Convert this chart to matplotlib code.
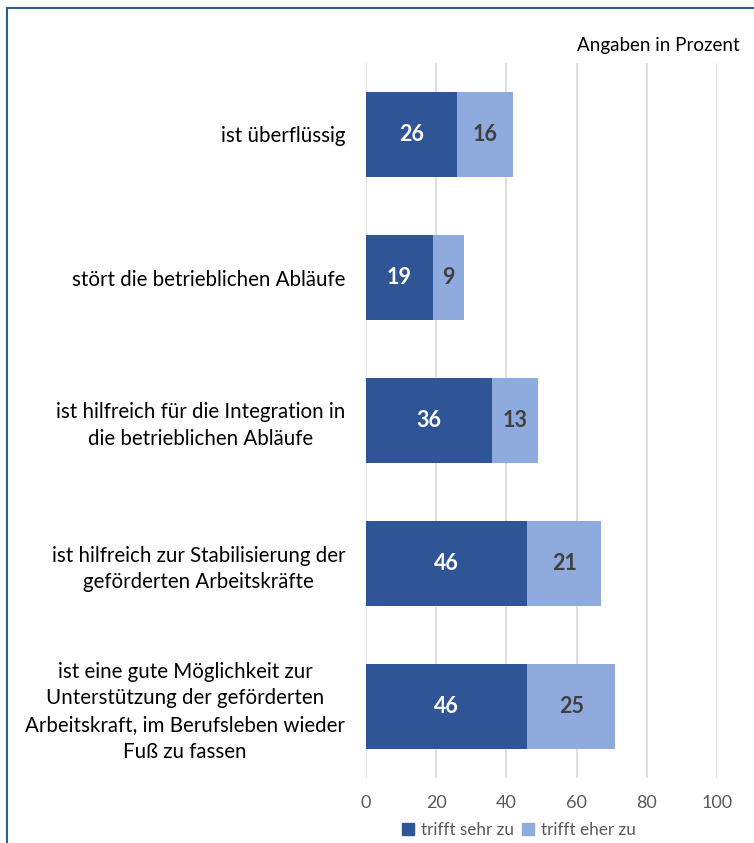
import matplotlib
matplotlib.use("Agg")
import matplotlib.pyplot as plt
from matplotlib.lines import Line2D
from matplotlib.patches import Patch

plt.rcParams['font.family'] = ['Lato', 'DejaVu Sans']

categories = [
    "ist überflüssig",
    "stört die betrieblichen Abläufe",
    "ist hilfreich für die Integration in\ndie betrieblichen Abläufe",
    "ist hilfreich zur Stabilisierung der\ngeförderten Arbeitskräfte",
    "ist eine gute Möglichkeit zur\nUnterstützung der geförderten\nArbeitskraft, im Berufsleben wieder\nFuß zu fassen",
]
sehr = [26, 19, 36, 46, 46]
eher = [16, 9, 13, 21, 25]
series_names = ["trifft sehr zu", "trifft eher zu"]
xticks = [0, 20, 40, 60, 80, 100]

c_dark = "#2F5597"
c_light = "#8FAADC"

fig = plt.figure(figsize=(7.54, 8.43), dpi=100)
ax = fig.add_axes([366/754, 1-778/843, (717-366)/754, (778-63)/843])

y = list(range(len(categories)))
ax.barh(y, sehr, height=0.59, color=c_dark, edgecolor="none", zorder=3)
ax.barh(y, eher, left=sehr, height=0.59, color=c_light, edgecolor="none", zorder=3)

for i in y:
    ax.text(sehr[i]/2, i, str(sehr[i]), ha="center", va="center", color="white",
            fontsize=15.5, fontweight="bold", zorder=4)
    ax.text(sehr[i] + eher[i]/2, i, str(eher[i]), ha="center", va="center", color="#404040",
            fontsize=15.5, fontweight="bold", zorder=4)

ax.set_xlim(0, 100)
ax.set_ylim(len(categories)-0.5, -0.5)
ax.set_xticks(xticks)
ax.set_xticklabels([str(t) for t in xticks], color="#595959", fontsize=13)
ax.set_yticks(y)
ax.set_yticklabels(categories, fontsize=14.8, color="#000000", ha="right",
                   multialignment="center", linespacing=1.42)
ax.tick_params(axis="y", length=0, pad=15)
ax.tick_params(axis="x", length=0, pad=12)
ax.grid(axis="x", color="#D9D9D9", linewidth=1.2, zorder=0)
for s in ax.spines.values():
    s.set_visible(False)

fig.text(740/754, 1-45/843, "Angaben in Prozent", ha="right", va="center", fontsize=13.5, color="#000000")

handles = [Patch(color=c_dark), Patch(color=c_light)]
fig.legend(handles, series_names, loc="center", bbox_to_anchor=(519/754, 1-830/843), ncol=2,
           frameon=False, fontsize=12.3, handlelength=0.7, handleheight=0.7, columnspacing=0.5,
           handletextpad=0.4, labelcolor="#595959")

fig.add_artist(Line2D([7/754, 7/754], [0, 1-8/843], transform=fig.transFigure, color="#2E5F8A", linewidth=1.5))
fig.add_artist(Line2D([7/754, 1], [1-8/843, 1-8/843], transform=fig.transFigure, color="#2E5F8A", linewidth=1.5))

fig.savefig("out.png", dpi=100)
